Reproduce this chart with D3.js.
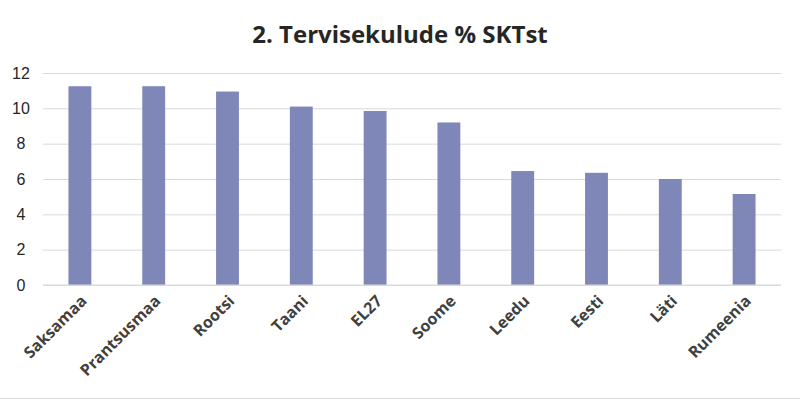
<!DOCTYPE html>
<html><head><meta charset="utf-8">
<script src="https://cdn.jsdelivr.net/npm/d3@7"></script>
<style>body{margin:0;background:#fff}</style>
</head><body><div id="chart"></div>
<script>
const countries = ["Saksamaa","Prantsusmaa","Rootsi","Taani","EL27","Soome","Leedu","Eesti","Läti","Rumeenia"];
const shares = [11.25, 11.25, 10.95, 10.1, 9.85, 9.2, 6.45, 6.35, 6.0, 5.15];
const yTicks = [0, 2, 4, 6, 8, 10, 12];

const width = 800, height = 402;
const marginLeft = 43, marginRight = 19, marginTop = 73, marginBottom = 117;

const svg = d3.select("#chart").append("svg")
    .attr("width", width).attr("height", height)
    .style("font-family", "'Open Sans', sans-serif");

const x = d3.scaleBand(countries, [marginLeft, width - marginRight]).paddingInner(0.69).paddingOuter(0.345);
const y = d3.scaleLinear([0, 12], [height - marginBottom, marginTop]);

svg.append("text")
    .attr("x", 400).attr("y", 43)
    .attr("text-anchor", "middle")
    .attr("font-size", 24).attr("font-weight", "bold").attr("fill", "#262626")
    .text("2. Tervisekulude % SKTst");

svg.append("g")
    .attr("transform", `translate(${marginLeft},0)`)
    .call(d3.axisLeft(y).tickValues(yTicks).tickSize(0).tickPadding(14))
    .call(g => g.select(".domain").remove())
    .call(g => g.selectAll(".tick line").clone()
        .attr("x2", width - marginLeft - marginRight)
        .attr("stroke", "#d9d9d9"))
    .call(g => g.selectAll(".tick text")
        .attr("font-size", 16).attr("fill", "#262626").attr("text-anchor", "middle").attr("dx", 0).attr("x", -22));

svg.append("g")
    .attr("fill", "#7f87b8")
  .selectAll("rect")
  .data(countries)
  .join("rect")
    .attr("x", d => x(d))
    .attr("y", (d, i) => y(shares[i]))
    .attr("width", x.bandwidth())
    .attr("height", (d, i) => y(0) - y(shares[i]));

svg.append("line")
    .attr("x1", marginLeft).attr("x2", width - marginRight)
    .attr("y1", y(0)).attr("y2", y(0))
    .attr("stroke", "#d9d9d9");

svg.append("g")
  .selectAll("text")
  .data(countries)
  .join("text")
    .attr("transform", d => `translate(${x(d) + x.bandwidth() / 2 + 8},${y(0) + 17}) rotate(-45)`)
    .attr("text-anchor", "end")
    .attr("font-size", 16).attr("font-weight", "bold").attr("fill", "#404040")
    .text(d => d);

svg.append("line")
    .attr("x1", 0).attr("x2", width).attr("y1", 398.5).attr("y2", 398.5)
    .attr("stroke", "#d9d9d9");
</script></body></html>
